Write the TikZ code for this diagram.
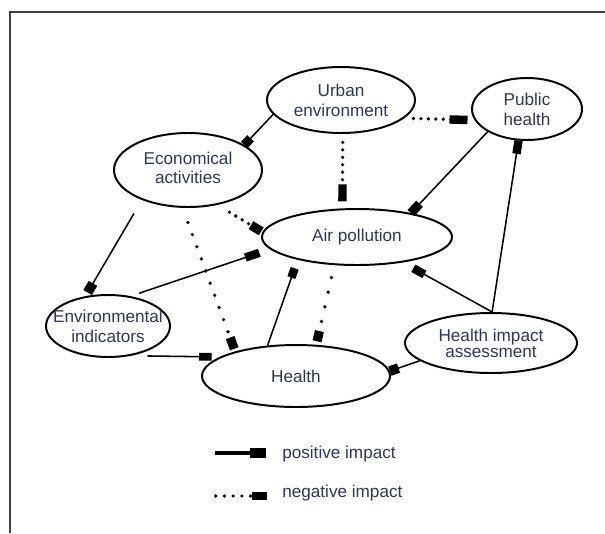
\documentclass[tikz,border=0pt]{standalone}
\usepackage{fontspec}
\setmainfont{Liberation Sans}
\usetikzlibrary{arrows.meta,shapes.geometric}
\definecolor{txt}{RGB}{45,55,90}
\begin{document}
\begin{tikzpicture}[x=0.25mm,y=-0.25mm,
  ell/.style={ellipse, draw=black, line width=1.4pt, inner xsep=-20pt, inner ysep=-10pt,
    align=center, text=txt, font=\fontsize{12.2}{14.2}\selectfont},
  posline/.style={draw=black, line width=1.1pt},
  negline/.style={draw=black, line width=2.6pt, line cap=round, dash pattern=on 0pt off #1},
  negline/.default=5.3pt,
  sq/.style 2 args={-{Rectangle[length=#1,width=#2]}},
  lbl/.style={anchor=west, inner sep=0pt, text=txt, font=\fontsize{12.2}{14}\selectfont}
]
\useasboundingbox (0,0) rectangle (605,533);
% frame
\coordinate (f1) at (10,533);
\coordinate (f2) at (10,12);
\coordinate (f3) at (605,12);
\draw[line width=2pt, black!75] (f1) -- (f2) -- (f3);

% nodes
\node[ell, minimum width=37mm, minimum height=16.5mm] (U) at (341,100) {Urban\\environment};
\node[ell, minimum width=27.5mm, minimum height=15.5mm] (P) at (527,109) {Public\\health};
\node[ell, minimum width=37mm, minimum height=18.5mm] (E) at (188,170) {\raisebox{-3pt}{\begin{tabular}{@{}c@{}}Economical\\[-1pt]activities\end{tabular}}};
\node[ell, minimum width=47.5mm, minimum height=14mm] (A) at (357,237) {Air pollution};
\node[ell, minimum width=31mm, minimum height=15.5mm] (I) at (108,326) {Environmental\\indicators};
\node[ell, minimum width=47mm, minimum height=15.5mm] (H) at (296,376) {Health};
\node[ell, minimum width=43mm, minimum height=15mm, font=\fontsize{12.2}{9.5}\selectfont] (HIA) at (491,343) {Health impact\\assessment};

% connectors
\draw[posline, sq={6.5pt}{6.5pt}] (U.192) -- (E.24);
\draw[negline, sq={12pt}{6pt}, shorten <=6pt, shorten >=5pt] (U.-87) -- (A.117);
\draw[negline, sq={12.8pt}{6pt}, shorten <=6.5pt, shorten >=5pt] (U.-16) -- (P.192);
\draw[posline, sq={9pt}{6.5pt}] (P.210) -- (A.24);
\draw[negline, sq={8.5pt}{6.5pt}, shorten <=10pt, shorten >=1pt] (E.-50) -- (A.177);
\draw[negline=9.2pt, sq={8.5pt}{6.5pt}, shorten <=11pt, shorten >=2pt] (E.-98) -- (H.158);
\draw[posline, sq={7.5pt}{7pt}, shorten <=11pt, shorten >=3pt] (E.-147) -- (I.127);
\draw[posline, sq={10.5pt}{6pt}, shorten <=6.5pt, shorten >=8pt] (I.53) -- (A.188);
\draw[posline, sq={9pt}{5.5pt}, shorten <=11.5pt, shorten >=5.7pt] (I.-52) -- (H.166);
\draw[posline, sq={7pt}{6pt}, shorten >=6.4pt] (H.133) -- (A.201);
\draw[negline=10.7pt, sq={7.5pt}{6.5pt}, shorten <=9pt, shorten >=2.5pt] (A.231) -- (H.57);
\draw[posline, sq={9pt}{6pt}, shorten >=8.5pt] (HIA.88) -- (A.-29);
\draw[posline, sq={9.5pt}{6pt}] (HIA.88) -- (P.255);
\draw[posline, sq={6.5pt}{7pt}] (HIA.194) -- (H.3);

% legend
\coordinate (lp1) at (215,453);
\coordinate (lp2) at (266,453);
\draw[draw=black, line width=2.2pt, sq={11.4pt}{6.8pt}] (lp1) -- (lp2);
\node[lbl] (lpt) at (282,454) {positive impact};
\coordinate (ln1) at (215.7,496);
\coordinate (ln2) at (266.7,496);
\draw[negline=6.2pt, sq={10.7pt}{6.2pt}] (ln1) -- (ln2);
\node[lbl] (lnt) at (282,493) {negative impact};
\end{tikzpicture}
\end{document}
